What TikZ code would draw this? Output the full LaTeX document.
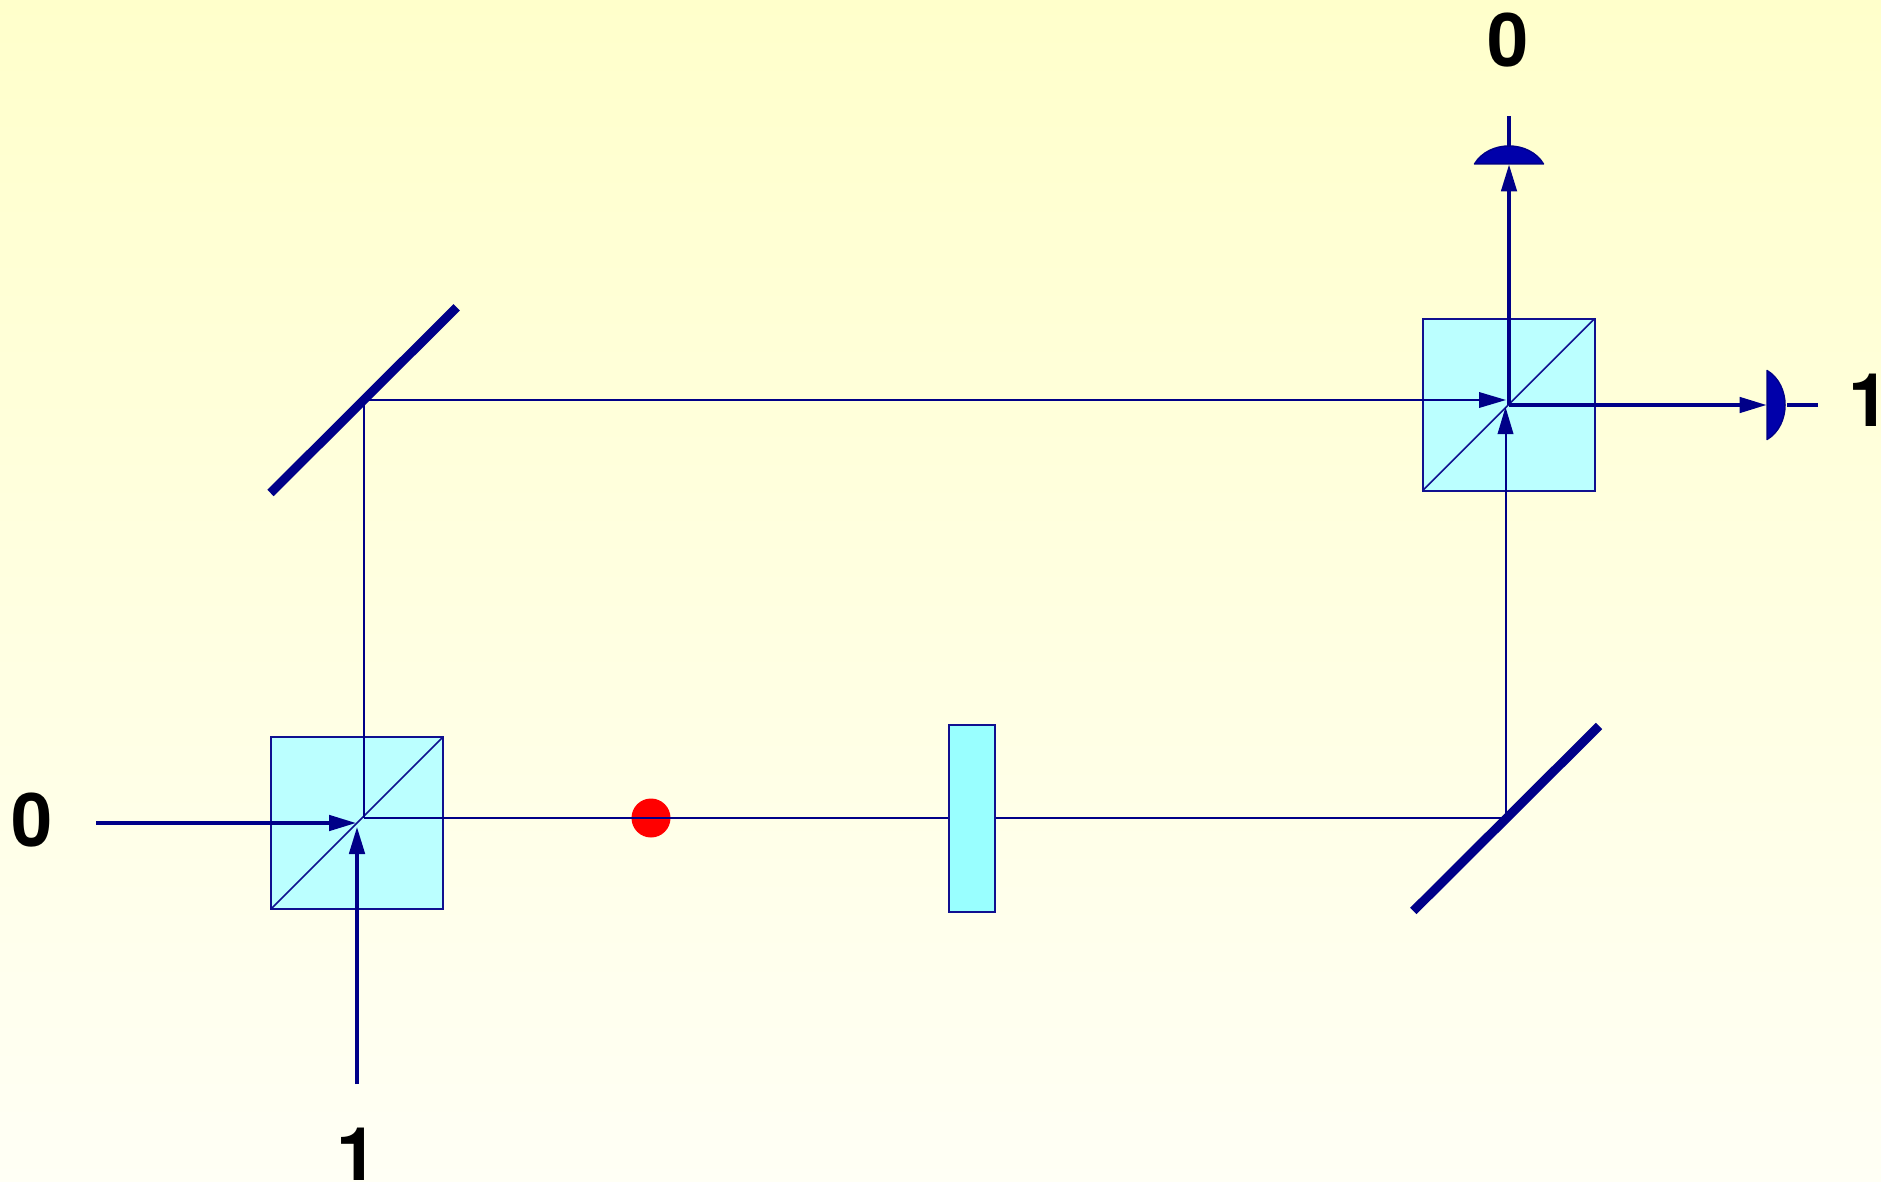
\documentclass[tikz,border=0pt]{standalone}
\usepackage{fontspec}
\setmainfont{TeX Gyre Heros}
\usetikzlibrary{arrows.meta}
\definecolor{beam}{HTML}{000088}
\definecolor{edgeblue}{HTML}{101090}
\definecolor{cubefill}{HTML}{BBFFFF}
\definecolor{platefill}{HTML}{99FFFF}
\definecolor{detfill}{HTML}{0000AA}
\definecolor{bgtop}{HTML}{FFFFCB}
\definecolor{bgbot}{HTML}{FFFFF5}
\tikzset{
  cube/.style={draw=edgeblue,fill=cubefill,line width=2pt,minimum width=172pt,minimum height=172pt,inner sep=0pt,outer sep=0pt},
  plate/.style={draw=edgeblue,fill=platefill,line width=2pt,minimum width=46pt,minimum height=186.5pt,inner sep=0pt,outer sep=0pt},
  thinbeam/.style={draw=beam,line width=2pt},
  thickbeam/.style={draw=beam,line width=3.3pt},
  arrowed/.style={-{Triangle[length=27pt,width=15.5pt]}},
  splitter/.style={draw=edgeblue,line width=1.7pt},
  mirror/.style={draw=beam,line width=9pt},
  detector/.style={draw=beam,fill=detfill,line width=1.5pt,line join=round},
  digit/.style={font=\fontsize{74}{74}\selectfont\bfseries,text=black,inner sep=0pt,anchor=base},
  phase/.style={circle,fill=red,minimum size=39pt,inner sep=0pt,outer sep=0pt}
}
\begin{document}
\begin{tikzpicture}[x=1pt,y=-1pt]
\useasboundingbox (0,0) rectangle (1881,1182);
\fill[top color=bgtop,bottom color=bgbot] (0,0) rectangle (1881,1182);

% beam splitters
\node[cube] (bs1) at (357,823) {};
\node[cube] (bs2) at (1508.7,404.5) {};
\draw[splitter] (bs1.south west) -- (bs1.north east);
\draw[splitter] (bs2.south west) -- (bs2.north east);

% named points on the paths
\coordinate (hitA) at (363.5,818);
\coordinate (hitB) at (363.5,400);
\coordinate (hitC) at (1505.5,818);
\coordinate (tipTop) at (1506,400);
\coordinate (tipBot) at (1505.5,407);
\coordinate (tipIn0) at (356,823);
\coordinate (tipIn1) at (357,827);
\coordinate (in0) at (96,823);
\coordinate (in1) at (357,1084);
\coordinate (outO) at (1509,405);
\coordinate (tipUp) at (1509,164.5);
\coordinate (tipRight) at (1766.5,405);
\coordinate (stubUpA) at (1509,146);
\coordinate (stubUpB) at (1509,116);
\coordinate (stubRightA) at (1787,405);
\coordinate (stubRightB) at (1818,405);

% interior beams
\node[phase] (dot) at (651,818) {};
\draw[thinbeam] (hitA) -- (hitC);
\draw[thinbeam] (hitA) -- (hitB);
\draw[thinbeam,arrowed] (hitB) -- (tipTop);
\draw[thinbeam,arrowed] (hitC) -- (tipBot);

% phase plate
\node[plate] (pl) at (972,818.5) {};

% mirrors
\coordinate (m1a) at (270.5,493);
\coordinate (m1b) at (456.7,307.3);
\coordinate (m2a) at (1413.3,911);
\coordinate (m2b) at (1599,726);
\draw[mirror] (m1a) -- (m1b);
\draw[mirror] (m2a) -- (m2b);

% input and output beams
\draw[thickbeam,arrowed] (in0) -- (tipIn0);
\draw[thickbeam,arrowed] (in1) -- (tipIn1);
\draw[thickbeam,arrowed] (outO) -- (tipUp);
\draw[thickbeam,arrowed] (outO) -- (tipRight);
\draw[thickbeam] (stubUpA) -- (stubUpB);
\draw[thickbeam] (stubRightA) -- (stubRightB);

% detectors
\coordinate (detT) at (1509,164);
\coordinate (detR) at (1767,405);
\draw[detector] ([xshift=-34.5pt]detT) .. controls ([xshift=-20pt,yshift=24pt]detT) and ([xshift=20pt,yshift=24pt]detT) .. ([xshift=34.5pt]detT) -- cycle;
\draw[detector] ([yshift=-34.5pt]detR) .. controls ([xshift=24pt,yshift=-20pt]detR) and ([xshift=24pt,yshift=20pt]detR) .. ([yshift=34.5pt]detR) -- cycle;

% labels
\node[digit] (lTop) at (1508,66.5) {0};
\node[digit] (lLeft) at (32,846.5) {0};
\node[digit] (lRight) at (1869.5,426.5) {1};
\node[digit] (lBot) at (357,1180.5) {1};
\end{tikzpicture}
\end{document}
